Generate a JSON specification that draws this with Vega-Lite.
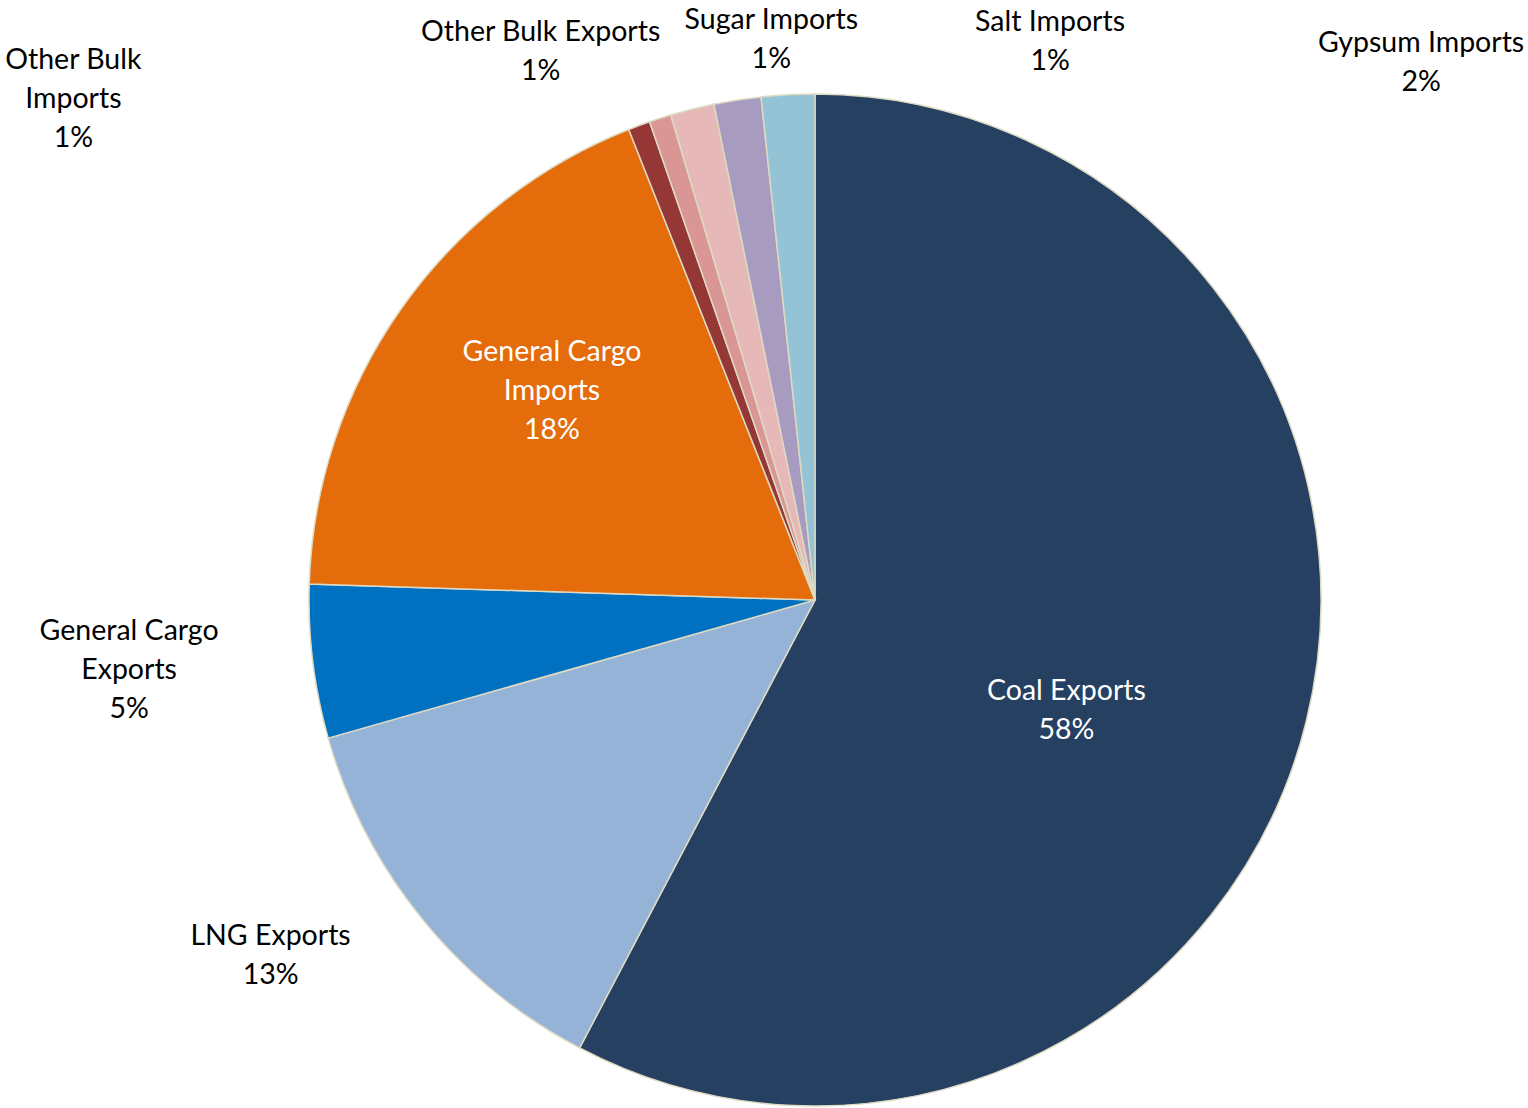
{
  "$schema": "https://vega.github.io/schema/vega-lite/v6.json",
  "autosize": "none",
  "padding": {"left": 309, "top": 94, "right": 207, "bottom": 2},
  "width": 1012,
  "height": 1012,
  "background": "white",
  "config": {"view": {"stroke": null}, "text": {"font": "Lato", "fontSize": 28.5, "lineHeight": 39, "lineBreak": "\n"}},
  "data": {"values": [
    {"cat": "Coal Exports", "value": 57.7, "idx": 1, "label": "Coal Exports\n58%"},
    {"cat": "LNG Exports", "value": 12.9, "idx": 2, "label": "LNG Exports\n13%"},
    {"cat": "General Cargo Exports", "value": 4.9, "idx": 3, "label": "General Cargo\nExports\n5%"},
    {"cat": "General Cargo Imports", "value": 18.5, "idx": 4, "label": "General Cargo\nImports\n18%"},
    {"cat": "Other Bulk Imports", "value": 0.7, "idx": 5, "label": "Other Bulk\nImports\n1%"},
    {"cat": "Other Bulk Exports", "value": 0.7, "idx": 6, "label": "Other Bulk Exports\n1%"},
    {"cat": "Sugar Imports", "value": 1.4, "idx": 7, "label": "Sugar Imports\n1%"},
    {"cat": "Salt Imports", "value": 1.5, "idx": 8, "label": "Salt Imports\n1%"},
    {"cat": "Gypsum Imports", "value": 1.7, "idx": 9, "label": "Gypsum Imports\n2%"}
  ]},
  "encoding": {
    "theta": {"field": "value", "type": "quantitative", "stack": true, "scale": {"domain": [0, 100]}},
    "order": {"field": "idx", "type": "quantitative"}
  },
  "layer": [
    {
      "mark": {"type": "arc", "stroke": "#DDD9C3", "strokeWidth": 1.5},
      "encoding": {
        "color": {"field": "cat", "type": "nominal", "legend": null,
          "scale": {
            "domain": ["Coal Exports", "LNG Exports", "General Cargo Exports", "General Cargo Imports", "Other Bulk Imports", "Other Bulk Exports", "Sugar Imports", "Salt Imports", "Gypsum Imports"],
            "range": ["#264061", "#95B3D7", "#0070C0", "#E46C0A", "#953735", "#D99694", "#E6B9B8", "#A79BC0", "#93C3D5"]
          }}
      }
    },
    {
      "mark": {"type": "text", "radius": 260, "dx": -1, "dy": 29, "fill": "white", "align": "center", "baseline": "middle"},
      "encoding": {"text": {"condition": {"test": "datum.cat == 'Coal Exports'", "field": "label"}, "value": ""}}
    },
    {
      "mark": {"type": "text", "radius": 330, "dx": 7, "dy": -58, "fill": "white", "align": "center", "baseline": "middle"},
      "encoding": {"text": {"condition": {"test": "datum.cat == 'General Cargo Imports'", "field": "label"}, "value": ""}}
    },
    {
      "mark": {"type": "text", "radius": 620, "dx": -63, "dy": -55, "fill": "black", "align": "center", "baseline": "middle"},
      "encoding": {"text": {"condition": {"test": "datum.cat == 'LNG Exports'", "field": "label"}, "value": ""}}
    },
    {
      "mark": {"type": "text", "radius": 680, "dx": -11, "dy": -52, "fill": "black", "align": "center", "baseline": "middle"},
      "encoding": {"text": {"condition": {"test": "datum.cat == 'General Cargo Exports'", "field": "label"}, "value": ""}}
    },
    {
      "mark": {"type": "text", "radius": 560, "dx": -547, "dy": -15, "fill": "black", "align": "center", "baseline": "middle"},
      "encoding": {"text": {"condition": {"test": "datum.cat == 'Other Bulk Imports'", "field": "label"}, "value": ""}}
    },
    {
      "mark": {"type": "text", "radius": 560, "dx": -103, "dy": -35, "fill": "black", "align": "center", "baseline": "middle"},
      "encoding": {"text": {"condition": {"test": "datum.cat == 'Other Bulk Exports'", "field": "label"}, "value": ""}}
    },
    {
      "mark": {"type": "text", "radius": 580, "dx": 97, "dy": -17, "fill": "black", "align": "center", "baseline": "middle"},
      "encoding": {"text": {"condition": {"test": "datum.cat == 'Sugar Imports'", "field": "label"}, "value": ""}}
    },
    {
      "mark": {"type": "text", "radius": 580, "dx": 324, "dy": -5, "fill": "black", "align": "center", "baseline": "middle"},
      "encoding": {"text": {"condition": {"test": "datum.cat == 'Salt Imports'", "field": "label"}, "value": ""}}
    },
    {
      "mark": {"type": "text", "radius": 560, "dx": 636, "dy": 2, "fill": "black", "align": "center", "baseline": "middle"},
      "encoding": {"text": {"condition": {"test": "datum.cat == 'Gypsum Imports'", "field": "label"}, "value": ""}}
    }
  ]
}
